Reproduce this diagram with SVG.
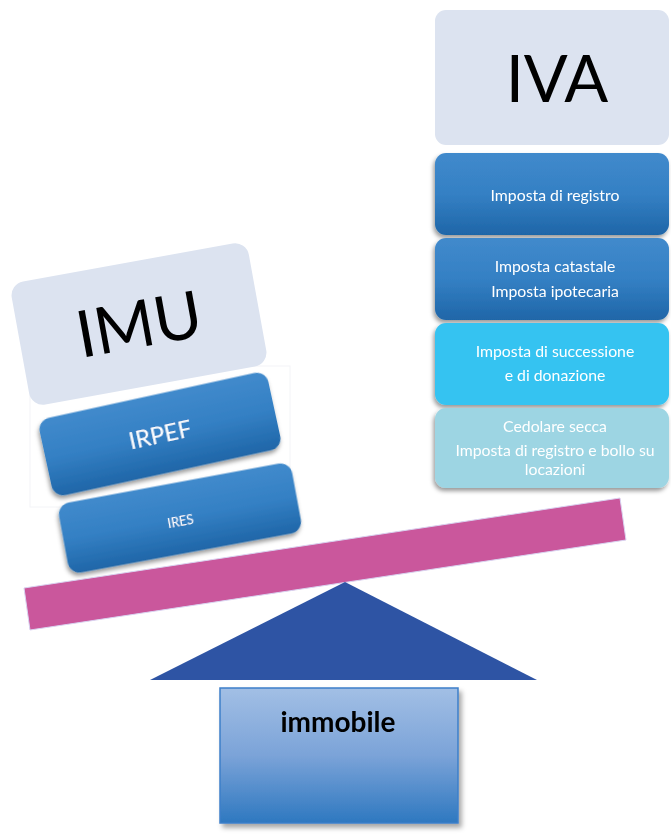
<svg xmlns="http://www.w3.org/2000/svg" width="671" height="839" viewBox="0 0 671 839">
<style>
.t{font-family:Lato,"Open Sans",sans-serif;text-anchor:middle}
.w{fill:#ffffff;font-size:15.8px}
.big{fill:#000000;font-size:65px}
</style>
<defs>
<linearGradient id="blue" x1="0" y1="0" x2="0" y2="1">
<stop offset="0" stop-color="#418ACC"/><stop offset="0.5" stop-color="#3480C4"/><stop offset="1" stop-color="#1F66A8"/>
</linearGradient>
<linearGradient id="imm" x1="0" y1="0" x2="0" y2="1">
<stop offset="0" stop-color="#A2BFE5"/><stop offset="0.5" stop-color="#7BA3D8"/><stop offset="1" stop-color="#2E78C0"/>
</linearGradient>
<filter id="sh" x="-10%" y="-15%" width="120%" height="135%">
<feDropShadow dx="-1.5" dy="3" stdDeviation="2" flood-color="#000" flood-opacity="0.4"/>
</filter>
<filter id="sh2" x="-10%" y="-10%" width="125%" height="125%">
<feDropShadow dx="3" dy="4" stdDeviation="2.5" flood-color="#000" flood-opacity="0.35"/>
</filter>
</defs>

<g id="connectors">
<polygon id="beam" points="24,588 620,498 626,540 30,630" fill="#CA579C" stroke="#D9D3F0" stroke-width="1"/>
<polygon id="fulcrum" points="345,582 537,680 150,680" fill="#2E54A4"/>
</g>

<rect x="30" y="366" width="260" height="141" fill="none" stroke="#F3F4F7" stroke-width="1"/>

<g id="imu" transform="translate(139,324) rotate(-10.3)">
<rect x="-120.5" y="-62.5" width="241" height="125" rx="14" fill="#DCE3F0"/>
<text class="t big" x="0" y="23">IMU</text>
</g>

<g id="irpef" transform="translate(160,434) rotate(-12.3)" filter="url(#sh)">
<rect x="-117" y="-39.5" width="234" height="79" rx="12" fill="url(#blue)"/>
<text class="t" x="0" y="9" fill="#ffffff" font-size="24">IRPEF</text>
</g>

<g id="ires" transform="translate(180,518) rotate(-10.5)" filter="url(#sh)">
<rect x="-118.5" y="-35.5" width="237" height="71" rx="12" fill="url(#blue)"/>
<text class="t" x="0" y="8" fill="#ffffff" font-size="13">IRES</text>
</g>

<g id="iva">
<rect x="435" y="10" width="234" height="135" rx="11" fill="#DCE3F0"/>
<text class="t big" x="557" y="102">IVA</text>
</g>

<g id="registro" filter="url(#sh)">
<rect x="435" y="153" width="234" height="82" rx="11" fill="url(#blue)"/>
<text class="t w" x="555" y="201">Imposta di registro</text>
</g>

<g id="catastale" filter="url(#sh)">
<rect x="435" y="238" width="234" height="82" rx="11" fill="url(#blue)"/>
<text class="t w" x="555" y="272">Imposta catastale</text>
<text class="t w" x="555" y="297">Imposta ipotecaria</text>
</g>

<g id="successione" filter="url(#sh)">
<rect x="435" y="323" width="234" height="82" rx="11" fill="#35C3F1"/>
<text class="t w" x="555" y="357">Imposta di successione</text>
<text class="t w" x="555" y="381">e di donazione</text>
</g>

<g id="cedolare" filter="url(#sh)">
<rect x="435" y="408" width="234" height="80" rx="11" fill="#9DD5E3"/>
<text class="t w" x="555" y="432">Cedolare secca</text>
<text class="t w" x="555" y="456">Imposta di registro e bollo su</text>
<text class="t w" x="555" y="475">locazioni</text>
</g>

<g id="immobile" filter="url(#sh2)">
<rect x="220" y="688" width="238" height="135" fill="url(#imm)" stroke="#3D7FC9" stroke-width="1.5"/>
<text class="t" x="338" y="732" fill="#000000" font-size="28" font-weight="bold">immobile</text>
</g>
</svg>
